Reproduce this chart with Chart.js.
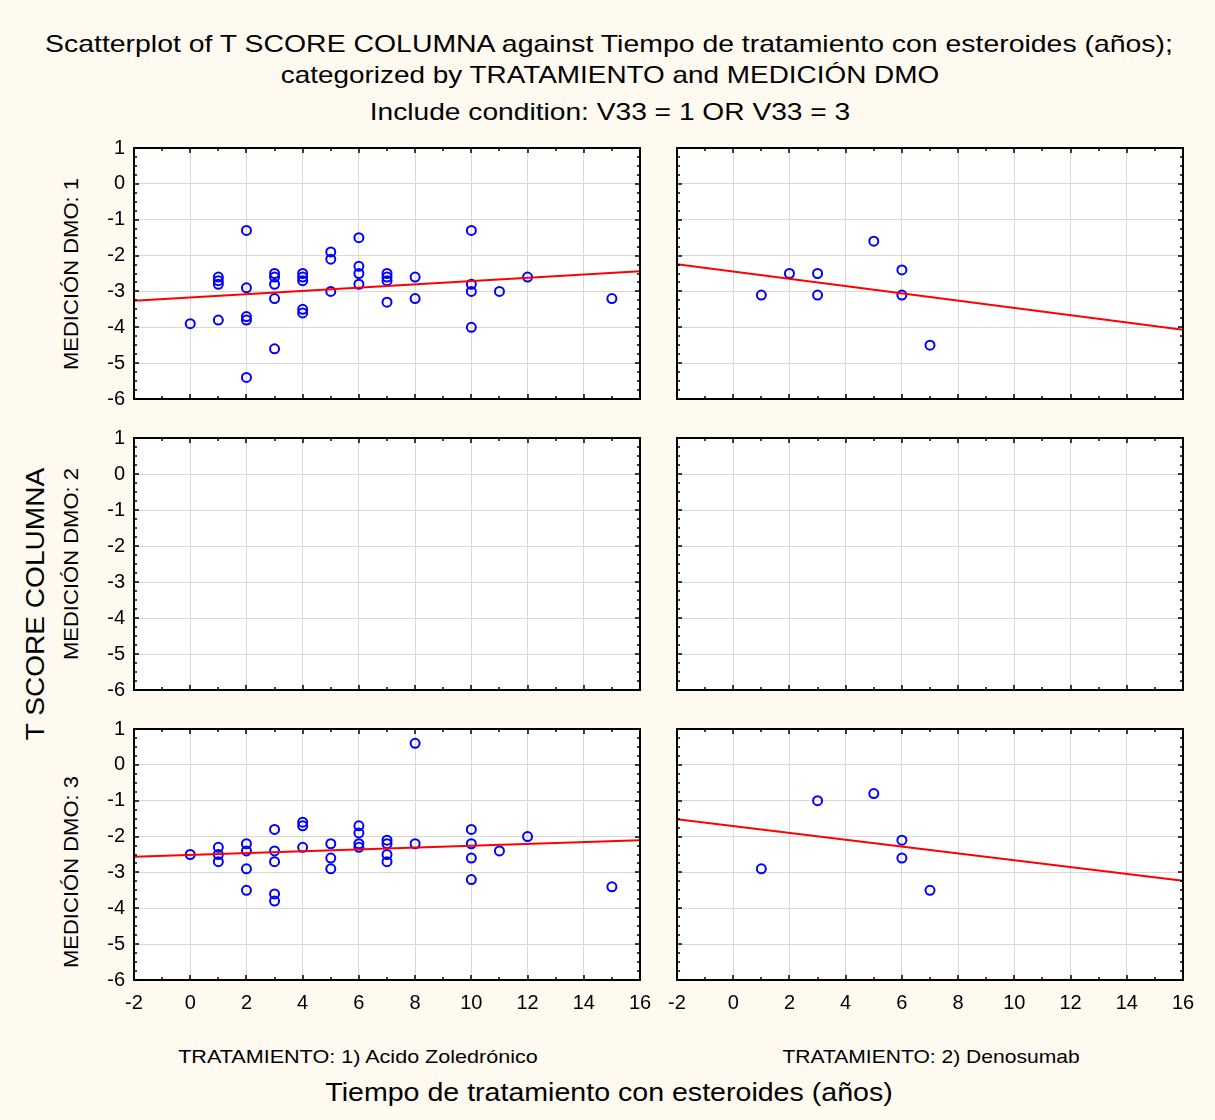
<!DOCTYPE html>
<html><head><meta charset="utf-8">
<script src="https://cdn.jsdelivr.net/npm/chart.js@4.4.1/dist/chart.umd.min.js"></script>
<style>
html,body{margin:0;padding:0;background:#FEFAF0;width:1215px;height:1120px;overflow:hidden;font-family:Arial,"Liberation Sans",sans-serif;}
canvas{position:absolute;}
.t{position:absolute;white-space:nowrap;color:#000;line-height:1;}
</style></head><body>
<div class="t" data-cx="609" data-cy="44" data-w="1128" style="font-size:24px">Scatterplot of T SCORE COLUMNA against Tiempo de tratamiento con esteroides (años);</div>
<div class="t" data-cx="610" data-cy="75" data-w="658" style="font-size:24px">categorized by TRATAMIENTO and MEDICIÓN DMO</div>
<div class="t" data-cx="610" data-cy="112" data-w="481" style="font-size:24px">Include condition: V33 = 1 OR V33 = 3</div>
<div class="t" data-cx="35" data-cy="604" data-w="272" data-rot="1" style="font-size:26px">T SCORE COLUMNA</div>
<div class="t" data-cx="70" data-cy="274" data-w="192" data-rot="1" style="font-size:21px">MEDICIÓN DMO: 1</div>
<div class="t" data-cx="70" data-cy="564" data-w="192" data-rot="1" style="font-size:21px">MEDICIÓN DMO: 2</div>
<div class="t" data-cx="70" data-cy="872" data-w="192" data-rot="1" style="font-size:21px">MEDICIÓN DMO: 3</div>
<div class="t" data-cx="358" data-cy="1056" data-w="360" style="font-size:19px">TRATAMIENTO: 1) Acido Zoledrónico</div>
<div class="t" data-cx="931" data-cy="1056" data-w="297" style="font-size:19px">TRATAMIENTO: 2) Denosumab</div>
<div class="t" data-cx="609" data-cy="1092" data-w="567" style="font-size:26px">Tiempo de tratamiento con esteroides (años)</div>

<canvas id="c11"></canvas><canvas id="c12"></canvas>
<canvas id="c21"></canvas><canvas id="c22"></canvas>
<canvas id="c31"></canvas><canvas id="c32"></canvas>
<script>
// ---- data ----
const xTickValues = [-2, 0, 2, 4, 6, 8, 10, 12, 14, 16];
const yTickValues = [1, 0, -1, -2, -3, -4, -5, -6];
const fitX = [-2, 16];

// Acido Zoledrónico, MEDICIÓN DMO 1
const zolM1X = [0, 1, 1, 1, 1, 2, 2, 2, 2, 2, 3, 3, 3, 3, 3, 4, 4, 4, 4, 4, 5, 5, 5, 6, 6, 6, 6, 7, 7, 7, 7, 8, 8, 10, 10, 10, 10, 11, 12, 15];
const zolM1Y = [-3.9, -2.6, -2.7, -2.8, -3.8, -1.3, -2.9, -3.7, -3.8, -5.4, -2.5, -2.6, -2.8, -3.2, -4.6, -2.5, -2.6, -2.7, -3.5, -3.6, -1.9, -2.1, -3.0, -1.5, -2.3, -2.5, -2.8, -2.5, -2.6, -2.7, -3.3, -2.6, -3.2, -1.3, -2.8, -3.0, -4.0, -3.0, -2.6, -3.2];
const zolM1Fit = [-3.26, -2.44];

// Denosumab, MEDICIÓN DMO 1
const denM1X = [1, 2, 3, 3, 5, 6, 6, 7];
const denM1Y = [-3.1, -2.5, -2.5, -3.1, -1.6, -2.4, -3.1, -4.5];
const denM1Fit = [-2.24, -4.07];

// MEDICIÓN DMO 2 (no data)
const zolM2X = [], zolM2Y = [];
const denM2X = [], denM2Y = [];

// Acido Zoledrónico, MEDICIÓN DMO 3
const zolM3X = [0, 1, 1, 1, 2, 2, 2, 2, 3, 3, 3, 3, 3, 4, 4, 4, 5, 5, 5, 6, 6, 6, 6, 7, 7, 7, 7, 8, 8, 10, 10, 10, 10, 11, 12, 15];
const zolM3Y = [-2.5, -2.3, -2.5, -2.7, -2.2, -2.4, -2.9, -3.5, -1.8, -2.4, -2.7, -3.6, -3.8, -1.6, -1.7, -2.3, -2.2, -2.6, -2.9, -1.7, -1.9, -2.2, -2.3, -2.1, -2.2, -2.5, -2.7, 0.6, -2.2, -1.8, -2.2, -2.6, -3.2, -2.4, -2.0, -3.4];
const zolM3Fit = [-2.56, -2.10];

// Denosumab, MEDICIÓN DMO 3
const denM3X = [1, 3, 5, 6, 6, 7];
const denM3Y = [-2.9, -1.0, -0.8, -2.1, -2.6, -3.5];
const denM3Fit = [-1.52, -3.23];

// ---- text fitting ----
document.querySelectorAll('.t').forEach(el => {
  const w = el.offsetWidth;
  const k = parseFloat(el.dataset.w) / w;
  el.style.left = el.dataset.cx + 'px';
  el.style.top = el.dataset.cy + 'px';
  el.style.transform = 'translate(-50%,-50%)' + (el.dataset.rot ? ' rotate(-90deg)' : '') + ' scaleX(' + k.toFixed(4) + ')';
});

// ---- chart helpers ----
const framePlugin = {
  id: 'frame',
  beforeDraw(chart) {
    const a = chart.chartArea, c = chart.ctx;
    c.save(); c.fillStyle = '#ffffff';
    c.fillRect(a.left, a.top, a.right - a.left, a.bottom - a.top);
    c.restore();
  },
  afterDraw(chart) {
    const a = chart.chartArea, c = chart.ctx, xs = chart.scales.x, ys = chart.scales.y;
    c.save(); c.strokeStyle = '#000'; c.lineWidth = 1.5;
    const seg = (x1, y1, x2, y2) => { c.beginPath(); c.moveTo(x1, y1); c.lineTo(x2, y2); c.stroke(); };
    for (let v = xs.min; v <= xs.max + 1e-9; v += 1) {
      const px = Math.round(xs.getPixelForValue(v));
      const L = (Math.round(v) % 2 === 0) ? 5 : 3;
      seg(px, a.bottom, px, a.bottom - L);
      seg(px, a.top, px, a.top + L);
    }
    const n = Math.round((ys.max - ys.min) * 4);
    for (let i = 0; i <= n; i++) {
      const v = ys.min + i * 0.25;
      const py = Math.round(ys.getPixelForValue(v));
      const L = (i % 4 === 0) ? 5 : 3;
      seg(a.left, py, a.left + L, py);
      seg(a.right, py, a.right - L, py);
    }
    c.lineWidth = 2;
    c.strokeRect(a.left, a.top, a.right - a.left, a.bottom - a.top);
    c.restore();
  }
};

function pts(xs, ys) { return xs.map((x, i) => ({ x: x, y: ys[i] })); }
function zeroPad(s) { s.paddingTop = 0; s.paddingBottom = 0; s.paddingLeft = 0; s.paddingRight = 0; }

function makePanel(id, left, plotTop, plotBottom, isLeftCol, isBottomRow, xs, ys, fit) {
  const yW = isLeftCol ? 40 : 20;
  const plotW = 506;
  const padR = 16, padT = 12;
  const xH = isBottomRow ? 40 : 12;
  const width = yW + plotW + padR;
  const height = padT + (plotBottom - plotTop) + xH;
  const cv = document.getElementById(id);
  cv.width = width; cv.height = height;
  cv.style.left = left + 'px';
  cv.style.top = (plotTop - padT) + 'px';
  cv.style.width = width + 'px'; cv.style.height = height + 'px';
  const datasets = [];
  if (fit) {
    datasets.push({ type: 'line', data: pts(fitX, fit), borderColor: '#FF0000', borderWidth: 2, pointRadius: 0, fill: false, tension: 0 });
  }
  datasets.push({ type: 'scatter', data: pts(xs, ys), borderColor: '#0000FF', backgroundColor: 'rgba(0,0,0,0)', pointRadius: 4.5, pointBorderWidth: 2, pointHoverRadius: 4.5 });
  const tickFont = { family: 'Arial, "Liberation Sans", sans-serif', size: 20 };
  new Chart(cv, {
    type: 'scatter',
    data: { datasets: datasets },
    options: {
      responsive: false, animation: false, devicePixelRatio: 1,
      layout: { padding: { top: padT, right: padR, left: 0, bottom: 0 } },
      plugins: { legend: { display: false }, tooltip: { enabled: false } },
      scales: {
        x: {
          type: 'linear', min: -2, max: 16,
          afterBuildTicks: s => { s.ticks = xTickValues.map(v => ({ value: v })); },
          afterFit: s => { s.height = xH; zeroPad(s); },
          grid: { color: '#D8D8D8', lineWidth: 1, drawTicks: false },
          border: { display: false },
          ticks: { display: isBottomRow, padding: 11, color: '#000', font: tickFont, maxRotation: 0, autoSkip: false }
        },
        y: {
          type: 'linear', min: -6, max: 1,
          afterBuildTicks: s => { s.ticks = yTickValues.map(v => ({ value: v })); },
          afterFit: s => { s.width = yW; zeroPad(s); },
          grid: { color: '#D8D8D8', lineWidth: 1, drawTicks: false },
          border: { display: false },
          ticks: { display: isLeftCol, padding: 9, color: '#000', font: tickFont, autoSkip: false }
        }
      }
    },
    plugins: [framePlugin]
  });
}

makePanel('c11', 94, 148, 399, true, false, zolM1X, zolM1Y, zolM1Fit);
makePanel('c12', 657, 148, 399, false, false, denM1X, denM1Y, denM1Fit);
makePanel('c21', 94, 438, 690, true, false, zolM2X, zolM2Y, null);
makePanel('c22', 657, 438, 690, false, false, denM2X, denM2Y, null);
makePanel('c31', 94, 729, 980, true, true, zolM3X, zolM3Y, zolM3Fit);
makePanel('c32', 657, 729, 980, false, true, denM3X, denM3Y, denM3Fit);
</script>
</body></html>
